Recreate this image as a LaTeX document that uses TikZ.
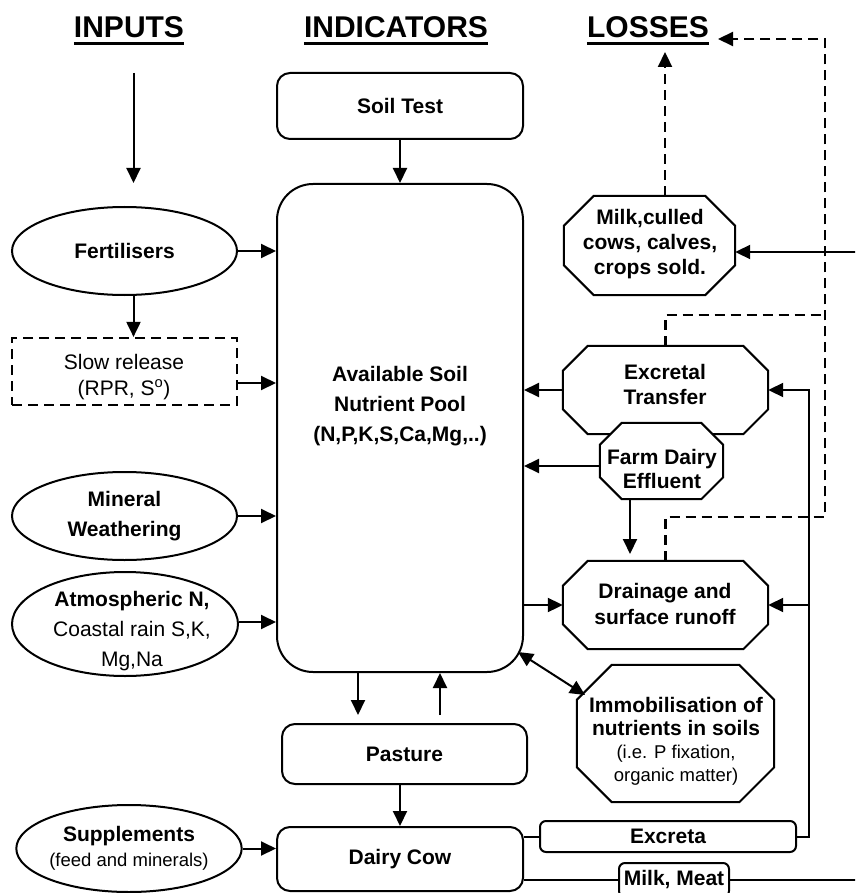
\documentclass[tikz,border=0pt]{standalone}
\usepackage{fontspec}
\setmainfont{Liberation Sans}
\usetikzlibrary{arrows.meta,shapes.geometric,calc}
\tikzset{
  tri/.tip={Triangle[length=15pt,width=14pt]},
  con/.style={line width=2pt},
  arr/.style={con,-tri},
  dsh/.style={line width=2.2pt,dash pattern=on 10pt off 6pt},
  big/.style={font=\fontsize{21}{25}\selectfont\bfseries},
  txt/.style={inner sep=0pt,align=center,big},
  rbox/.style={draw,con,fill=white,rounded corners=13pt,inner sep=0pt,align=center,big},
  oval/.style={ellipse,draw,con,fill=white,inner sep=0pt,align=center,big},
  hdr/.style={inner sep=0pt,anchor=base,font=\fontsize{30}{34}\selectfont\bfseries},
  octframe/.style={inner sep=0pt},
}
\newcommand\sm{\fontsize{18.5}{23}\selectfont\mdseries}
\newcommand\octa[2]{%
 \draw[con,fill=white] ($(#1.north west)+(#2pt,0)$) -- ($(#1.north east)+(-#2pt,0)$) -- ($(#1.north east)+(0,-#2pt)$) -- ($(#1.south east)+(0,#2pt)$) -- ($(#1.south east)+(-#2pt,0)$) -- ($(#1.south west)+(#2pt,0)$) -- ($(#1.south west)+(0,#2pt)$) -- ($(#1.north west)+(0,-#2pt)$) -- cycle;}
\begin{document}
\begin{tikzpicture}[x=1pt,y=-1pt]
\useasboundingbox (0,0) rectangle (855,893);
\clip (0,0) rectangle (855,893);

% headers
\node[hdr] (hin) at (129,38) {INPUTS};
\node[hdr] (hind) at (396,38) {INDICATORS};
\node[hdr] (hlos) at (648,38) {LOSSES};
\foreach \h in {hin,hind,hlos}
  \draw[line width=3.2pt] ([yshift=-5.5pt]\h.base west) -- ([yshift=-5.5pt]\h.base east);

% indicators column
\node[rbox,minimum width=246pt,minimum height=66pt] (soil) at (400,106) {Soil Test};
\node[rbox,rounded corners=36pt,minimum width=246pt,minimum height=488pt] (pool) at (400,428) {};
\node[txt,font=\fontsize{21}{30}\selectfont\bfseries] (poolt) at (400,406) {Available Soil\\Nutrient Pool\\(N,P,K,S,Ca,Mg,..)};
\node[rbox,minimum width=245pt,minimum height=60pt] (past) at (404.5,754) {Pasture};
\node[rbox,minimum width=246pt,minimum height=64pt] (cow) at (400,859) {Dairy Cow};
\node[rbox,rounded corners=6pt,minimum width=256pt,minimum height=31pt] (excr) at (668,836.5) {Excreta};
\node[rbox,rounded corners=6pt,minimum width=110pt,minimum height=34pt] (mm) at (674,880) {Milk, Meat};

% inputs
\node[oval,minimum width=225pt,minimum height=88pt] (fert) at (124.5,251) {Fertilisers};
\node[draw,line width=2.2pt,dash pattern=on 10pt off 6pt,minimum width=225pt,minimum height=67pt] (slow) at (124.5,371.5) {};
\node[txt,font=\fontsize{21}{25.5}\selectfont] (slowt) at (124,377) {Slow release\\(RPR, S\textsuperscript{o})};
\node[oval,font=\fontsize{21}{29.5}\selectfont\bfseries,minimum width=225pt,minimum height=88pt] (mw) at (124.5,516) {Mineral\\Weathering};
\node[oval,minimum width=226pt,minimum height=104pt] (atm) at (125,624) {};
\node[txt,font=\fontsize{21}{30}\selectfont] (atmt) at (132,631) {{\bfseries Atmospheric N,}\\Coastal rain S,K,\\Mg,Na};
\node[oval,minimum width=224pt,minimum height=87pt] (supp) at (129,848.5) {Supplements\\{\sm (feed and minerals)}};

% losses / transfers
\node[octframe,minimum width=171pt,minimum height=99pt] (milk) at (649.5,245.5) {};
\octa{milk}{30}
\node[txt] (milkt) at (650,244) {Milk,culled\\cows, calves,\\crops sold.};

\node[octframe,minimum width=205pt,minimum height=88pt] (exc) at (665.5,390) {};
\octa{exc}{25}
\node[txt] (exct) at (665,384) {Excretal\\Transfer};

\node[octframe,minimum width=123pt,minimum height=76pt] (fde) at (661.5,461) {};
\octa{fde}{22}
\node[txt,font=\fontsize{21}{23.5}\selectfont\bfseries] (fdet) at (662,469) {Farm Dairy\\Effluent};

\node[octframe,minimum width=205pt,minimum height=88pt] (drain) at (665.5,605) {};
\octa{drain}{25}
\node[txt,font=\fontsize{21}{26}\selectfont\bfseries] (draint) at (665,604) {Drainage and\\surface runoff};

\node[octframe,minimum width=197pt,minimum height=137pt] (immo) at (675.5,733.5) {};
\octa{immo}{35}
\node[txt,font=\fontsize{21}{23}\selectfont\bfseries] (immot) at (676,741) {Immobilisation of\\nutrients in soils\\{\sm (i.e. P fixation,}\\{\sm organic matter)}};

% connectors
\coordinate (inA) at (133.5,73);
\coordinate (inB) at (133.5,183);
\draw[arr] (inA) -- (inB);
\draw[arr] (soil.south) -- (pool.north);
\draw[arr] (fert.east) -- (fert.east -| pool.west);
\draw[arr] (fert.south -| inA) -- (slow.north -| inA);
\draw[arr] ([yshift=-11.5pt]slow.east) -- ([yshift=-11.5pt]slow.east -| pool.west);
\draw[arr] (mw.east) -- (mw.east -| pool.west);
\draw[arr] ([yshift=2pt]atm.east) -- ([yshift=2pt]atm.east -| pool.west);
\draw[arr] (supp.east) -- (supp.east -| cow.west);

\coordinate (pd) at (358,715);
\coordinate (pu) at (440,715);
\draw[arr] (pool.south -| pd) -- (pd);
\draw[arr] (pu) -- (pu |- pool.south);
\draw[arr] (past.south -| cow.north) -- (cow.north);

\draw[con] (cow.east |- excr.west) -- (excr.west);
\coordinate (xr) at (808.5,0);
\draw[arr] (excr.east) -- (excr.east -| xr) -- (xr |- exc.east) -- (exc.east);
\draw[arr] (xr |- drain.east) -- (drain.east);

\draw[con] (cow.east |- mm.west) -- (mm.west);
\coordinate (eB) at (860,880);
\draw[con] (mm.east) -- (mm.east -| eB);

\coordinate (eA) at (860,252);
\draw[arr] (eA) -- (eA -| milk.east);

\draw[arr] (exc.west) -- (exc.west -| pool.east);
\draw[arr] ([yshift=-5pt]fde.west) -- ([yshift=-5pt]fde.west -| pool.east);
\coordinate (fd) at (630,554);
\draw[arr] (fde.south -| fd) -- (fd);
\draw[arr] (pool.east |- drain.west) -- (drain.west);
\coordinate (c1) at (518,652);
\coordinate (c2) at (585,695);
\draw[con,tri-tri] (c1) -- (c2);

\coordinate (lt) at (665,52);
\draw[dsh,-tri] (lt |- milk.north) -- (lt);
\coordinate (rt) at (825,39);
\coordinate (rm) at (825,315);
\coordinate (rb) at (825,517);
\coordinate (lossA) at (718,39);
\draw[dsh,-tri] (drain.north) |- (rb) -- (rt) -- (lossA);
\draw[dsh] (exc.north) |- (rm);
\end{tikzpicture}
\end{document}
